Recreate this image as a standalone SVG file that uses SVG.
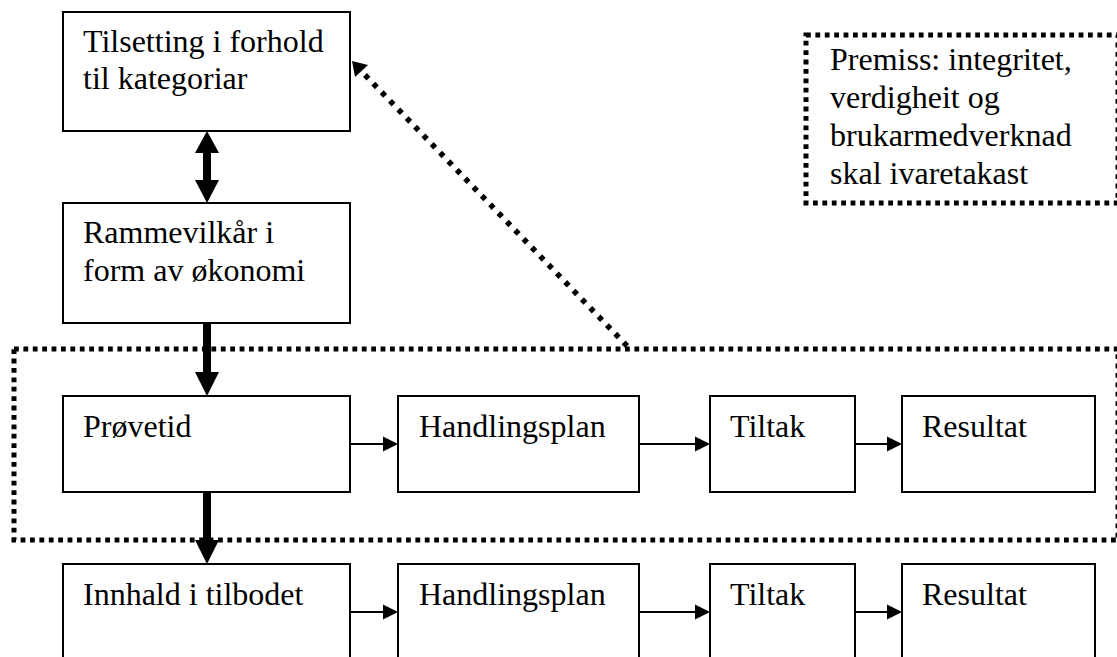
<svg xmlns="http://www.w3.org/2000/svg" width="1117" height="657" viewBox="0 0 1117 657">
<style>
.box{fill:#fff;stroke:#000;stroke-width:2}
.dotbox{fill:none;stroke:#000;stroke-width:5;stroke-dasharray:4.8 4.6}
.t{font-family:"Liberation Serif","Times New Roman",serif;font-size:32px;fill:#000}
.ln{stroke:#000;stroke-width:2;fill:none}
.hd{fill:#000;stroke:none}
</style>
<rect width="1117" height="657" fill="#fff"/>
<g id="frame-provetid">
<rect class="dotbox" x="14" y="349" width="1104" height="191"/>
</g>
<g id="premiss">
<rect class="dotbox" x="806" y="35" width="312" height="168"/>
<text class="t" x="830" y="70">Premiss: integritet,</text>
<text class="t" x="830" y="108">verdigheit og</text>
<text class="t" x="830" y="146">brukarmedverknad</text>
<text class="t" x="830" y="184">skal ivaretakast</text>
</g>
<g id="tilsetting">
<rect class="box" x="63" y="12" width="287" height="119"/>
<text class="t" x="83" y="52">Tilsetting i forhold</text>
<text class="t" x="83" y="89">til kategoriar</text>
</g>
<g id="rammevilkar">
<rect class="box" x="63" y="203" width="287" height="120"/>
<text class="t" x="83" y="243">Rammevilkår i</text>
<text class="t" x="83" y="281">form av økonomi</text>
</g>
<g id="provetid">
<rect class="box" x="63" y="396" width="287" height="96"/>
<text class="t" x="83" y="437">Prøvetid</text>
</g>
<g id="handlingsplan1">
<rect class="box" x="398" y="396" width="241" height="96"/>
<text class="t" x="419" y="437">Handlingsplan</text>
</g>
<g id="tiltak1">
<rect class="box" x="710" y="396" width="145" height="96"/>
<text class="t" x="730" y="437">Tiltak</text>
</g>
<g id="resultat1">
<rect class="box" x="902" y="396" width="193" height="96"/>
<text class="t" x="922" y="437">Resultat</text>
</g>
<g id="innhald">
<rect class="box" x="63" y="564" width="287" height="120"/>
<text class="t" x="83" y="605">Innhald i tilbodet</text>
</g>
<g id="handlingsplan2">
<rect class="box" x="398" y="564" width="241" height="120"/>
<text class="t" x="419" y="605">Handlingsplan</text>
</g>
<g id="tiltak2">
<rect class="box" x="710" y="564" width="145" height="120"/>
<text class="t" x="730" y="605">Tiltak</text>
</g>
<g id="resultat2">
<rect class="box" x="902" y="564" width="193" height="120"/>
<text class="t" x="922" y="605">Resultat</text>
</g>
<g id="connectors">
<path class="hd" d="M207,131 L219,153 L211,153 L211,180 L219,180 L207,203 L195,180 L203,180 L203,153 L195,153 Z"/>
<path class="hd" d="M203,323 L211,323 L211,372 L219,372 L207,396 L195,372 L203,372 Z"/>
<path class="hd" d="M203,492 L211,492 L211,540 L219,540 L207,564 L195,540 L203,540 Z"/>
<line class="ln" x1="350" y1="444" x2="384" y2="444"/>
<path class="hd" d="M383,436.5 L398,444 L383,451.5 Z"/>
<line class="ln" x1="639" y1="444" x2="696" y2="444"/>
<path class="hd" d="M695,436.5 L710,444 L695,451.5 Z"/>
<line class="ln" x1="855" y1="444" x2="888" y2="444"/>
<path class="hd" d="M887,436.5 L902,444 L887,451.5 Z"/>
<line class="ln" x1="350" y1="612" x2="384" y2="612"/>
<path class="hd" d="M383,604.5 L398,612 L383,619.5 Z"/>
<line class="ln" x1="639" y1="612" x2="696" y2="612"/>
<path class="hd" d="M695,604.5 L710,612 L695,619.5 Z"/>
<line class="ln" x1="855" y1="612" x2="888" y2="612"/>
<path class="hd" d="M887,604.5 L902,612 L887,619.5 Z"/>
<line x1="365" y1="75" x2="630" y2="349" stroke="#000" stroke-width="5.5" stroke-dasharray="5 7"/>
<path class="hd" d="M352,61 L368,65 L355,77 Z"/>
</g>
</svg>
